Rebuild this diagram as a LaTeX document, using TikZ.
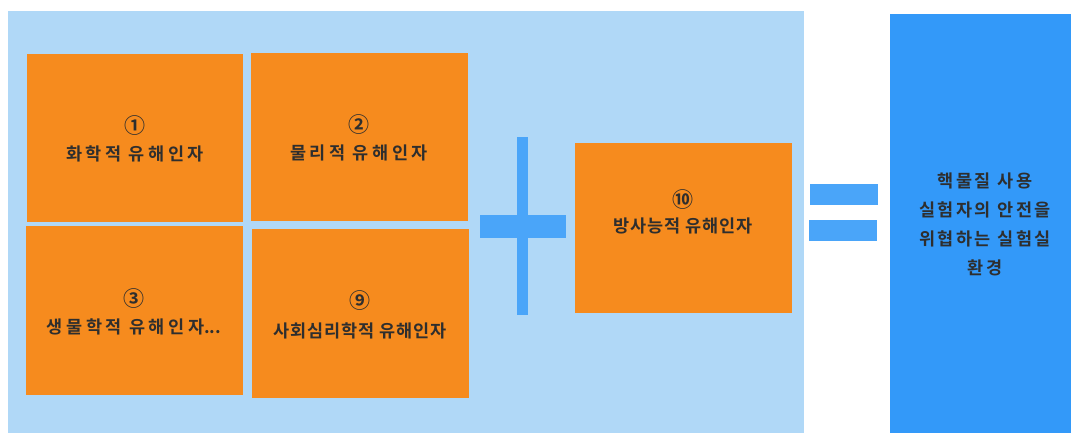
\documentclass[tikz,border=0pt]{standalone}
\usepackage{fontspec}
\setmainfont{Noto Sans CJK KR}[BoldFont={Noto Sans CJK KR Bold}]
\definecolor{lightbg}{HTML}{B0D8F7}
\definecolor{orangebox}{HTML}{F68B1E}
\definecolor{barblue}{HTML}{4AA5F9}
\definecolor{bigblue}{HTML}{3399F9}
\definecolor{txt}{HTML}{2E2E2E}
\newcommand{\circnum}[1]{{\fontsize{21}{21}\selectfont #1}}
\tikzset{
  obox/.style={fill=orangebox, draw=none, inner sep=0pt, anchor=north west},
  bar/.style={fill=barblue, draw=none, inner sep=0pt, anchor=north west},
  lbl/.style={text=txt, align=center, inner sep=0pt, font=\bfseries\fontsize{17.5}{27}\selectfont},
  wide/.style={lbl, font=\bfseries\fontsize{17.5}{27}\selectfont\addfontfeature{LetterSpace=20}},
}
\begin{document}
\begin{tikzpicture}[x=1pt,y=-1pt]
\useasboundingbox (0,0) rectangle (1071,433);
\fill[white] (0,0) rectangle (1071,433);
% background panels
\node[fill=lightbg, inner sep=0pt, anchor=north west, minimum width=796pt, minimum height=422pt] (bg) at (8,11) {};
\node[fill=bigblue, inner sep=0pt, anchor=north west, minimum width=181pt, minimum height=419pt] (res) at (890,14) {};
% orange boxes
\node[obox, minimum width=216pt, minimum height=168pt] (b1) at (27,54) {};
\node[obox, minimum width=217pt, minimum height=168pt] (b2) at (251,53) {};
\node[obox, minimum width=217pt, minimum height=169pt] (b3) at (26,226) {};
\node[obox, minimum width=217pt, minimum height=169pt] (b9) at (252,229) {};
\node[obox, minimum width=217pt, minimum height=170pt] (b10) at (575,143) {};
% plus sign
\node[bar, minimum width=11pt, minimum height=178pt] (pv) at (517,137) {};
\node[bar, minimum width=86pt, minimum height=23pt] (ph) at (480,215) {};
% equals sign
\node[bar, minimum width=68pt, minimum height=21pt] (e1) at (810,184) {};
\node[bar, minimum width=68pt, minimum height=21pt] (e2) at (809,220) {};
% labels
\node[wide] (t1) at (135,139) {\circnum{①}\\화학적 유해인자};
\node[wide] (t2) at (359,138) {\circnum{②}\\물리적 유해인자};
\node[wide] (t3) at (134,312) {\circnum{③}\\생물학적 유해인자{\addfontfeature{LetterSpace=0}...}};
\node[lbl, font=\bfseries\fontsize{17.5}{29}\selectfont\addfontfeature{LetterSpace=5}] (t9) at (360,315) {\circnum{⑨}\\사회심리학적 유해인자};
\node[lbl, font=\bfseries\fontsize{17.5}{25}\selectfont\addfontfeature{LetterSpace=5}] (t10) at (683,212) {\circnum{⑩}\\방사능적 유해인자};
\node[lbl, font=\bfseries\fontsize{17.5}{29}\selectfont\addfontfeature{LetterSpace=14}] (tr) at (985,224) {핵물질 사용\\실험자의 안전을\\위협하는 실험실\\환경};
\end{tikzpicture}
\end{document}
